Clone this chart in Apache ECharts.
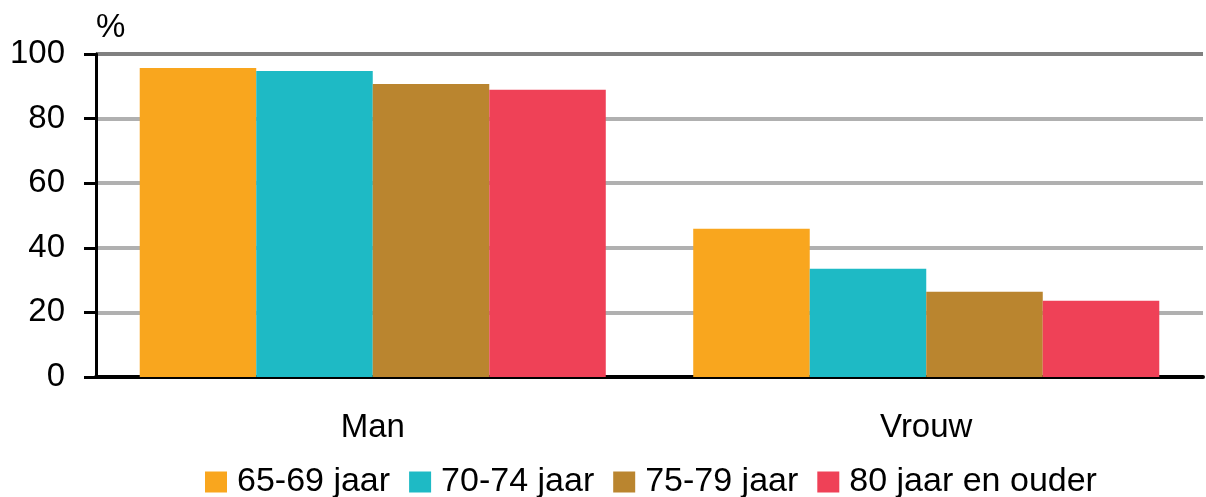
<!DOCTYPE html>
<html>
<head>
<meta charset="utf-8">
<script src="https://cdn.jsdelivr.net/npm/echarts@6/dist/echarts.min.js"></script>
<style>html,body{margin:0;padding:0;background:#fff}#c{width:1206px;height:497px}</style>
</head>
<body>
<div id="c"></div>
<script>
const categories = ['Man', 'Vrouw'];
const seriesNames = ['65-69 jaar', '70-74 jaar', '75-79 jaar', '80 jaar en ouder'];
const s6569 = [95.7, 45.9];
const s7074 = [94.7, 33.5];
const s7579 = [90.7, 26.4];
const s80 = [88.9, 23.6];
const yTicks = [0, 20, 40, 60, 80, 100];
const colors = ['#F9A61E', '#1EBAC5', '#BA852F', '#EF4157'];

const font = '"Liberation Sans", Arial, sans-serif';
const values = [s6569, s7074, s7579, s80];
const chart = echarts.init(document.getElementById('c'), null, {renderer: 'canvas'});
chart.setOption({
  animation: false,
  color: colors,
  grid: {left: 96, right: 3, top: 54, bottom: 120, containLabel: false},
  legend: {
    left: 205, top: 465, padding: 0,
    itemWidth: 22, itemHeight: 21, itemGap: 19,
    icon: 'rect',
    textStyle: {fontFamily: font, fontSize: 34, color: '#000', padding: [0, 0, 0, 5]},
    data: seriesNames
  },
  xAxis: {
    type: 'category',
    data: categories,
    axisLine: {lineStyle: {color: '#000', width: 4}},
    axisTick: {show: false},
    axisLabel: {fontFamily: font, fontSize: 33, color: '#000', margin: 34}
  },
  yAxis: {
    type: 'value',
    min: yTicks[0], max: yTicks[yTicks.length - 1], interval: 20,
    name: '%',
    nameLocation: 'end',
    nameGap: 10,
    nameTextStyle: {fontFamily: font, fontSize: 33, color: '#000', align: 'left', verticalAlign: 'bottom'},
    axisLine: {show: true, lineStyle: {color: '#000', width: 3}},
    axisTick: {show: true, length: 12, lineStyle: {color: '#000', width: 3}},
    axisLabel: {fontFamily: font, fontSize: 33, color: '#000', margin: 31},
    splitLine: {lineStyle: {color: ['#b0b0b0', '#b0b0b0', '#b0b0b0', '#b0b0b0', '#b0b0b0', '#808080'], width: 4}}
  },
  series: seriesNames.map((n, i) => ({
    name: n,
    type: 'bar',
    data: values[i],
    barGap: '0%',
    barCategoryGap: '15.8%',
    itemStyle: {color: colors[i]}
  }))
});
</script>
</body>
</html>
